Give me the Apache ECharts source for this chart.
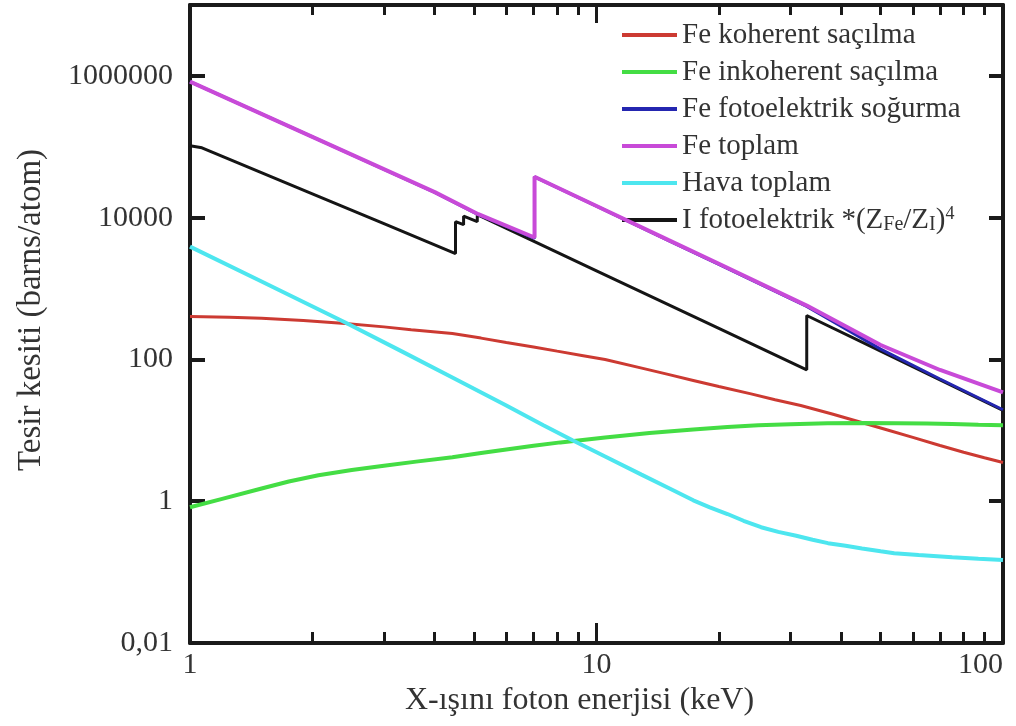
<!DOCTYPE html>
<html>
<head>
<meta charset="utf-8">
<script src="https://cdn.jsdelivr.net/npm/echarts@6/dist/echarts.min.js"></script>
<style>
html,body{margin:0;padding:0;background:#fff;}
#chart{width:1016px;height:726px;}
</style>
</head>
<body>
<div id="chart"></div>
<script>
// ---- data (energies in keV, cross sections in barns/atom) ----
const cohE   = [1, 1.25, 1.5, 1.9, 2.41, 3, 3.5, 4.42, 5.2, 6, 7, 8, 9.2, 10.5, 13, 15, 17.3, 20, 24, 27.5, 31.8, 38, 44.7, 52, 60, 70, 80, 90, 100];
const cohV   = [404, 395, 380, 355, 321, 288, 263, 232, 200, 173, 150, 131, 114, 100, 74.8, 61.5, 50.6, 41.5, 32.7, 27.0, 22.4, 17.0, 13.0, 10.1, 7.94, 6.1, 4.9, 4.1, 3.51];

const incohE = [1, 1.2, 1.5, 1.75, 2.07, 2.5, 3, 3.6, 4.42, 5.2, 6, 7, 8.15, 10.5, 13.5, 17.3, 21, 25, 30, 37, 45, 55, 65, 75, 87, 100];
const incohV = [0.822, 1.08, 1.51, 1.9, 2.32, 2.75, 3.16, 3.62, 4.17, 4.8, 5.37, 6.05, 6.76, 7.94, 9.2, 10.3, 11.1, 11.75, 12.2, 12.6, 12.7, 12.6, 12.45, 12.3, 12.0, 11.75];

const photoE = [1, 2, 4, 5.12, 7.04, 7.04, 10, 15, 20, 32.9, 50, 70, 100];
const photoV = [831000, 137600, 22650, 11020, 5110, 37650, 14500, 4790, 2186, 560, 140, 53, 19.5];

const totE   = [1, 2, 4, 5.12, 7.04, 7.04, 10, 15, 20, 32.9, 50, 70, 100];
const totV   = [831800, 138000, 22900, 11200, 5250, 37800, 14600, 4860, 2240, 575, 160, 71, 34.3];

const airE   = [1, 1.5, 2.41, 3.3, 4.42, 6, 7.4, 8.73, 10.5, 12.9, 15, 17.3, 19, 21, 23, 25.4, 28, 31, 34, 37.1, 41, 45, 50, 54, 62, 75, 87, 100];
const airV   = [3908, 1256, 332, 132, 55.7, 22.4, 11.8, 7.23, 4.28, 2.37, 1.55, 1.03, 0.82, 0.66, 0.53, 0.43, 0.37, 0.326, 0.286, 0.256, 0.235, 0.216, 0.197, 0.185, 0.174, 0.162, 0.154, 0.148];

const iodE   = [1, 1.07, 2, 3, 4.5, 4.5, 4.71, 4.71, 5.09, 5.09, 7.04, 10, 20, 32.9, 32.9, 50, 70, 100];
const iodV   = [103300, 96800, 21700, 8220, 3110, 8790, 7960, 10500, 8790, 11000, 4590, 1780, 274, 71.4, 417, 131, 51.5, 19.1];

const seriesNames = ['Fe koherent saçılma', 'Fe inkoherent saçılma', 'Fe fotoelektrik soğurma', 'Fe toplam', 'Hava toplam', 'I fotoelektrik *(ZFe/ZI)4'];

const xLabelTicks = [1, 10, 100];
const xMinorTicks = [2, 3, 4, 5, 6, 7, 8, 9, 20, 30, 40, 50, 60, 70, 80, 90];
const xMajorTicks = [10];
const yTicks = [0.01, 1, 100, 10000, 1000000];

const pairs = (xs, ys) => xs.map((x, i) => [x, ys[i]]);

const FONT = '"Liberation Serif", "Times New Roman", serif';
const TXT = '#333';
const AX = '#1a1a1a';

function xAx(pos, ticks, len, showLine, showLabel, extra) {
  return Object.assign({
    type: 'log', logBase: 10, min: 1, max: 100, position: pos, gridIndex: 0,
    axisLine: { show: showLine, onZero: false, lineStyle: { color: AX, width: 4 } },
    axisTick: { show: true, inside: true, length: len, customValues: ticks, lineStyle: { color: AX, width: 3 } },
    axisLabel: { show: showLabel, customValues: xLabelTicks, fontFamily: FONT, fontSize: 30, color: TXT, margin: 7,
      alignMaxLabel: 'right' },
    splitLine: { show: false }, minorTick: { show: false }
  }, extra || {});
}

const chart = echarts.init(document.getElementById('chart'));
chart.setOption({
  backgroundColor: '#fff',
  animation: false,
  grid: { left: 190, right: 13, top: 5, bottom: 83, containLabel: false, outerBoundsMode: 'none' },
  legend: {
    data: seriesNames,
    orient: 'vertical',
    left: 617, top: 15,
    itemWidth: 55, itemHeight: 4, itemGap: 7,
    icon: 'rect',
    textStyle: {
      fontFamily: FONT, fontSize: 29, color: TXT, lineHeight: 30,
      rich: {
        n: { fontFamily: FONT, fontSize: 29, color: TXT, lineHeight: 30 },
        s: { fontFamily: FONT, fontSize: 20, color: TXT, lineHeight: 30, verticalAlign: 'bottom' },
        p: { fontFamily: FONT, fontSize: 18, color: TXT, lineHeight: 30, verticalAlign: 'top' }
      }
    },
    formatter: function (name) {
      if (name.indexOf('I fotoelektrik') === 0) {
        return '{n|I fotoelektrik *(Z}{s|Fe}{n|/Z}{s|I}{n|)}{p|4}';
      }
      return name;
    }
  },
  xAxis: [
    xAx('bottom', xMinorTicks, 11, true, true, {
      name: 'X-ışını foton enerjisi (keV)', nameLocation: 'middle', nameGap: 40,
      nameTextStyle: { fontFamily: FONT, fontSize: 32, color: TXT, padding: [0, 34, 0, 0] }
    }),
    xAx('bottom', xMajorTicks, 20, false, false),
    xAx('top', xMinorTicks, 10, true, false),
    xAx('top', xMajorTicks, 18, false, false)
  ],
  yAxis: [
    {
      type: 'log', logBase: 10, min: 0.01, max: 10000000, position: 'left',
      axisLine: { show: true, onZero: false, lineStyle: { color: AX, width: 4 } },
      axisTick: { show: true, inside: true, length: 15, customValues: yTicks, lineStyle: { color: AX, width: 4 } },
      axisLabel: {
        customValues: yTicks, fontFamily: FONT, fontSize: 30, color: TXT, margin: 17,
        formatter: function (v) { return v === 0.01 ? '0,01' : String(Math.round(v)); }
      },
      splitLine: { show: false },
      name: 'Tesir kesiti (barns/atom)', nameLocation: 'middle', nameGap: 142, nameRotate: 90,
      nameTextStyle: { fontFamily: FONT, fontSize: 33, color: TXT, padding: [0, 0, 0, 28] }
    },
    {
      type: 'log', logBase: 10, min: 0.01, max: 10000000, position: 'right',
      axisLine: { show: true, onZero: false, lineStyle: { color: AX, width: 4 } },
      axisTick: { show: true, inside: true, length: 14, customValues: yTicks, lineStyle: { color: AX, width: 4 } },
      axisLabel: { show: false },
      splitLine: { show: false }
    }
  ],
  series: [
    { name: seriesNames[0], type: 'line', data: pairs(cohE, cohV), showSymbol: false,
      lineStyle: { color: '#cc3a32', width: 3 }, itemStyle: { color: '#cc3a32' }, z: 2 },
    { name: seriesNames[1], type: 'line', data: pairs(incohE, incohV), showSymbol: false,
      lineStyle: { color: '#44dd44', width: 4 }, itemStyle: { color: '#44dd44' }, z: 2 },
    { name: seriesNames[5], type: 'line', data: pairs(iodE, iodV), showSymbol: false,
      lineStyle: { color: '#151515', width: 3 }, itemStyle: { color: '#151515' }, z: 3 },
    { name: seriesNames[2], type: 'line', data: pairs(photoE, photoV), showSymbol: false,
      lineStyle: { color: '#2426b0', width: 3 }, itemStyle: { color: '#2426b0' }, z: 4 },
    { name: seriesNames[3], type: 'line', data: pairs(totE, totV), showSymbol: false,
      lineStyle: { color: '#c84ad8', width: 4 }, itemStyle: { color: '#c84ad8' }, z: 5 },
    { name: seriesNames[4], type: 'line', data: pairs(airE, airV), showSymbol: false,
      lineStyle: { color: '#4de6ef', width: 4 }, itemStyle: { color: '#4de6ef' }, z: 2 }
  ]
});
</script>
</body>
</html>
